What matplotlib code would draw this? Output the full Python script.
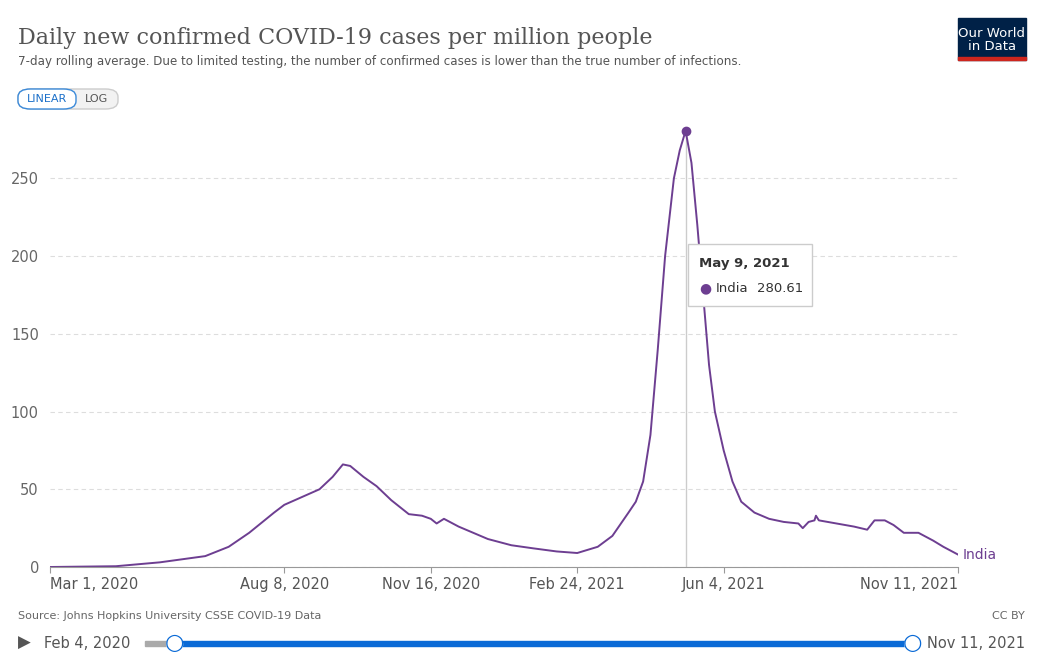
import matplotlib
matplotlib.use("Agg")
import matplotlib.pyplot as plt
from matplotlib.patches import FancyBboxPatch, Rectangle
import pandas as pd

dates = ["2020-03-01","2020-04-15","2020-05-15","2020-06-15","2020-07-01","2020-07-15","2020-08-01","2020-08-08",
 "2020-08-20","2020-09-01","2020-09-10","2020-09-17","2020-09-22","2020-10-01","2020-10-10","2020-10-20","2020-11-01",
 "2020-11-10","2020-11-16","2020-11-20","2020-11-25","2020-12-05","2020-12-15","2020-12-25","2021-01-10","2021-01-25",
 "2021-02-10","2021-02-24","2021-03-10","2021-03-20","2021-03-31","2021-04-05","2021-04-10","2021-04-15","2021-04-20",
 "2021-04-25","2021-05-01","2021-05-05","2021-05-09","2021-05-13","2021-05-17","2021-05-21","2021-05-25","2021-05-29",
 "2021-06-04","2021-06-10","2021-06-16","2021-06-25","2021-07-05","2021-07-15","2021-07-25","2021-07-28","2021-08-01",
 "2021-08-05","2021-08-06","2021-08-08","2021-08-20","2021-09-01","2021-09-10","2021-09-15","2021-09-22","2021-09-28",
 "2021-10-05","2021-10-15","2021-10-25","2021-11-01","2021-11-11"]
values = [0,0.5,3,7,13,22,35,40,45,50,58,66,65,58,52,43,34,33,31,28,31,26,22,18,14,12,10,9,13,20,35,42,55,85,140,
 200,250,268,280.61,260,220,175,130,100,75,55,42,35,31,29,28,25,29,30,33,30,28,26,24,30,30,27,22,22,17,13,8]
xt = ["2020-03-01","2020-08-08","2020-11-16","2021-02-24","2021-06-04","2021-11-11"]
xtl = ["Mar 1, 2020","Aug 8, 2020","Nov 16, 2020","Feb 24, 2021","Jun 4, 2021","Nov 11, 2021"]

d = pd.to_datetime(dates)
col = "#6D3E91"
fig = plt.figure(figsize=(10.43, 6.59), dpi=100)
ax = fig.add_axes([50/1043, 1-567/659, 908/1043, (567-110)/659])
ax.plot(d, values, color=col, lw=1.4)
pk = d[values.index(max(values))]
ax.plot([pk], [max(values)], "o", color=col, ms=6)
ax.plot([pk, pk], [0, max(values)], color="#ccc", lw=1, zorder=0)
ax.set_xlim(pd.Timestamp("2020-03-01"), pd.Timestamp("2021-11-11"))
ax.set_ylim(0, 294)
ax.set_yticks([0,50,100,150,200,250])
ax.yaxis.grid(True, ls=(0,(4,3)), color="#ddd")
for s in ["top","right","left"]:
    ax.spines[s].set_visible(False)
ax.spines["bottom"].set_color("#999")
ax.tick_params(axis="y", length=0, labelsize=10.5, labelcolor="#666", pad=8)
ax.tick_params(axis="x", length=4, color="#999", labelsize=10.5, labelcolor="#555")
ax.set_xticks(pd.to_datetime(xt))
ax.set_xticklabels(xtl)
lb = ax.get_xticklabels()
lb[0].set_ha("left"); lb[-1].set_ha("right")
ax.text(pd.Timestamp("2021-11-11")+pd.Timedelta(days=3), values[-1], "India", color=col, fontsize=10, va="center")

fig.text(18/1043, 1-38/659, "Daily new confirmed COVID-19 cases per million people", fontsize=16,
         family="DejaVu Serif", color="#555", va="center")
fig.text(18/1043, 1-61/659, "7-day rolling average. Due to limited testing, the number of confirmed cases is lower than the true number of infections.",
         fontsize=8.6, color="#555", va="center")
fig.patches.append(Rectangle((958/1043, 1-60/659), 68/1043, 42/659, transform=fig.transFigure, color="#002147"))
fig.patches.append(Rectangle((958/1043, 1-60/659), 68/1043, 3/659, transform=fig.transFigure, color="#CE261E"))
fig.text(992/1043, 1-40/659, "Our World\nin Data", color="white", fontsize=9.5, ha="center", va="center", linespacing=1.0)
fig.patches.append(FancyBboxPatch((18/1043, 1-109/659), 100/1043, 20/659, boxstyle="round,pad=0,rounding_size=0.012",
         transform=fig.transFigure, fc="#f2f2f2", ec="#ccc", lw=1))
fig.patches.append(FancyBboxPatch((18/1043, 1-109/659), 58/1043, 20/659, boxstyle="round,pad=0,rounding_size=0.012",
         transform=fig.transFigure, fc="white", ec="#3b8ad9", lw=1))
fig.text(47/1043, 1-99/659, "LINEAR", color="#1a6fc9", fontsize=8, ha="center", va="center")
fig.text(97/1043, 1-99/659, "LOG", color="#555", fontsize=8, ha="center", va="center")
# tooltip
fig.patches.append(Rectangle((688/1043, 1-306/659), 124/1043, 62/659, transform=fig.transFigure, fc="white", ec="#ccc", lw=1))
fig.text(699/1043, 1-264/659, "May 9, 2021", fontsize=9.5, weight="bold", color="#333", va="center")
fig.text(705/1043, 1-288/659, "●", fontsize=10, color=col, va="center", ha="center")
fig.text(716/1043, 1-288/659, "India", fontsize=9.5, color="#333", va="center")
fig.text(803/1043, 1-288/659, "280.61", fontsize=9.5, color="#333", va="center", ha="right")
fig.text(18/1043, 1-616/659, "Source: Johns Hopkins University CSSE COVID-19 Data", fontsize=8, color="#666", va="center")
fig.text(1025/1043, 1-616/659, "CC BY", fontsize=8, color="#666", va="center", ha="right")
# slider
fig.text(18/1043, 1-643/659, "▶", fontsize=12, color="#555", va="center")
fig.text(44/1043, 1-643/659, "Feb 4, 2020", fontsize=10.5, color="#555", va="center")
fig.text(1025/1043, 1-643/659, "Nov 11, 2021", fontsize=10.5, color="#555", va="center", ha="right")
fig.patches.append(Rectangle((145/1043, 1-646/659), 30/1043, 5/659, transform=fig.transFigure, color="#aaa"))
fig.patches.append(Rectangle((174/1043, 1-646/659), 738/1043, 5/659, transform=fig.transFigure, color="#0a6ad6"))
for xx in (174, 912):
    fig.text(xx/1043, 1-643/659, "●", fontsize=16, color="white", va="center", ha="center")
    fig.text(xx/1043, 1-643/659, "○", fontsize=16, color="#0a6ad6", va="center", ha="center")
fig.savefig("out.png", dpi=100)
